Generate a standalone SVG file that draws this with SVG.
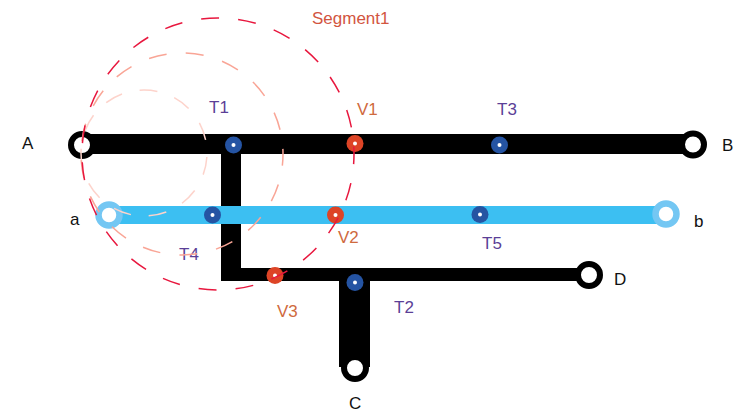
<svg xmlns="http://www.w3.org/2000/svg" width="741" height="411" viewBox="0 0 741 411">
<style>
text{font-family:"Liberation Sans",Arial,sans-serif;font-size:17px}
.n{fill:#111}.t{fill:#5b3f97}.v{fill:#cf6a3e}
.bar{fill:none;stroke:#000}
.ring{fill:#fff;stroke:#000;stroke-width:6}
.lring{fill:#fff;stroke:#74c7f3;stroke-width:6.5}
.td{fill:#2554a3}.vd{fill:#dd4426}.c{fill:#fff}
.arc{fill:none}
</style>
<rect width="741" height="411" fill="#fff"/>
<g id="connectors">
<path class="bar" stroke-width="20" d="M82 144H693"/>
<path class="bar" stroke-width="20" d="M231 154V275"/>
<path class="bar" stroke-width="13" d="M221 274.500H589"/>
<path class="bar" stroke-width="31" d="M354.500 281V367"/>
<path fill="none" stroke="#3cbff2" stroke-width="18" d="M109 215H666"/>
</g>
<g id="node-A"><circle class="ring" cx="82" cy="145" r="11"/><text class="n" x="22" y="149">A</text></g>
<g id="node-B"><circle class="ring" cx="693" cy="144.500" r="11"/><text class="n" x="722" y="151">B</text></g>
<g id="node-C"><circle class="ring" cx="355" cy="368" r="11"/><text class="n" x="349" y="409">C</text></g>
<g id="node-D"><circle class="ring" cx="589" cy="275" r="11"/><text class="n" x="614" y="285">D</text></g>
<g id="node-a"><circle class="lring" cx="109" cy="215" r="10.500"/><text class="n" x="70" y="225">a</text></g>
<g id="node-b"><circle class="lring" cx="666" cy="214" r="10.500"/><text class="n" x="694" y="227">b</text></g>
<g id="node-T1"><circle class="td" cx="233.500" cy="145" r="8.500"/><circle class="c" cx="233.500" cy="145" r="2"/><text class="t" x="209" y="113">T1</text></g>
<g id="node-V1"><circle class="vd" cx="355" cy="143.500" r="8.500"/><circle class="c" cx="355" cy="143.500" r="2"/><text class="v" x="357" y="115">V1</text></g>
<g id="node-T3"><circle class="td" cx="499.500" cy="145" r="8.500"/><circle class="c" cx="499.500" cy="145" r="2"/><text class="t" x="497" y="115">T3</text></g>
<g id="node-T4"><circle class="td" cx="212.500" cy="215" r="8.500"/><circle class="c" cx="212.500" cy="215" r="2"/><text class="t" x="179" y="260">T4</text></g>
<g id="node-V2"><circle class="vd" cx="335.500" cy="215" r="8.500"/><circle class="c" cx="335.500" cy="215" r="2"/><text class="v" x="338" y="243">V2</text></g>
<g id="node-T5"><circle class="td" cx="480" cy="214.500" r="8.500"/><circle class="c" cx="480" cy="214.500" r="2"/><text class="t" x="482" y="249">T5</text></g>
<g id="node-V3"><circle class="vd" cx="275" cy="275.500" r="8.500"/><circle class="c" cx="275" cy="275.500" r="2"/><text class="v" x="277" y="317">V3</text></g>
<g id="node-T2"><circle class="td" cx="355" cy="282.500" r="8.500"/><circle class="c" cx="355" cy="282.500" r="2"/><text class="t" x="394" y="313">T2</text></g>
<g id="segments">
<circle class="arc" cx="144" cy="153" r="63" stroke="#fdd3cb" stroke-width="1.500" stroke-dasharray="18 17.980" stroke-dashoffset="31.900"/>
<circle class="arc" cx="182" cy="154" r="101" stroke="#f9a596" stroke-width="1.500" stroke-dasharray="18 19.330" stroke-dashoffset="6.300"/>
<circle class="arc" cx="218" cy="154" r="136" stroke="#e8173e" stroke-width="1.500" stroke-dasharray="18 19.150" stroke-dashoffset="7.850"/>
<text x="312" y="24" fill="#d2553f">Segment1</text>
</g>
</svg>
